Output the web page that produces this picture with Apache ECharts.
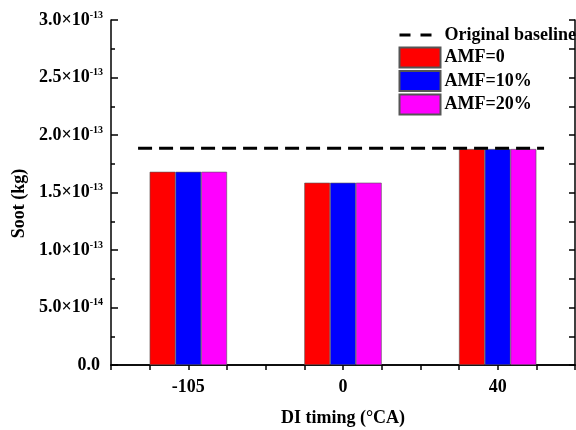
<!DOCTYPE html>
<html>
<head>
<meta charset="utf-8">
<script src="https://cdn.jsdelivr.net/npm/echarts@6/dist/echarts.min.js"></script>
<style>
  html, body { margin: 0; padding: 0; background: #fff; }
  #chart { width: 576px; height: 430px; }
</style>
</head>
<body>
<div id="chart"></div>
<script>
  const timings = ['-105', '0', '40'];
  const seriesNames = ['AMF=0', 'AMF=10%', 'AMF=20%'];
  const seriesColors = ['#ff0000', '#0000ff', '#ff00ff'];
  const amf0 = [1.68e-13, 1.585e-13, 1.878e-13];
  const amf10 = [1.68e-13, 1.585e-13, 1.878e-13];
  const amf20 = [1.68e-13, 1.585e-13, 1.878e-13];
  // baseline drawn along the top (quarter-category) axis
  const baselineX = [0.7, 11.2];
  const baselineSoot = 1.884e-13;

  const font = 'Liberation Serif';
  const chart = echarts.init(document.getElementById('chart'), null, { renderer: 'canvas' });

  function sciLabel(v) {
    if (v === 0) return '{z|0.0}';
    const e = Math.floor(Math.log10(v) + 1e-9);
    const m = (v / Math.pow(10, e)).toFixed(1);
    return '{m|' + m + '×10}{e|' + e + '}';
  }

  const axisLine = { show: true, lineStyle: { color: '#000', width: 1.5 } };
  const labelText = { fontFamily: font, fontWeight: 'bold', color: '#000' };

  chart.setOption({
    animation: false,
    legend: {
      orient: 'vertical',
      left: 398,
      top: 25,
      padding: 0,
      itemWidth: 41,
      itemHeight: 20,
      itemGap: 1.5,
      textStyle: { ...labelText, fontSize: 18, lineHeight: 20, padding: [0, 0, 0, -1] },
      data: [
        {
          name: 'Original baseline',
          itemStyle: { opacity: 0 },
          lineStyle: { color: '#000', width: 3, type: [11, 10] }
        }
      ].concat(seriesNames.map((n) => ({ name: n, icon: 'rect' })))
    },
    grid: { left: 111, top: 20, right: 1, bottom: 65, outerBoundsMode: 'none' },
    xAxis: [
      {
        type: 'category',
        data: timings,
        position: 'bottom',
        axisLine: axisLine,
        axisTick: { show: false },
        axisLabel: { ...labelText, margin: 13, fontSize: 18 },
        name: 'DI timing (°CA)',
        nameLocation: 'middle',
        nameGap: 44,
        nameTextStyle: { ...labelText, fontSize: 18 }
      },
      {
        type: 'value',
        position: 'top',
        min: 0,
        max: 12,
        interval: 1,
        axisLine: axisLine,
        axisTick: { inside: true, length: 5, lineStyle: { color: '#000', width: 1.5 } },
        axisLabel: { show: false },
        splitLine: { show: false }
      }
    ],
    yAxis: [
      {
        type: 'value',
        min: 0,
        max: 3e-13,
        interval: 0.5e-13,
        position: 'left',
        axisLine: axisLine,
        axisTick: { inside: true, length: 7, lineStyle: { color: '#000', width: 1.5 } },
        minorTick: { show: true, splitNumber: 2, length: 4, lineStyle: { color: '#000', width: 1.5 } },
        splitLine: { show: false },
        axisLabel: {
          margin: 8,
          formatter: sciLabel,
          rich: {
            m: { ...labelText, fontSize: 18 },
            z: { ...labelText, fontSize: 18, padding: [0, 3, 0, 0] },
            e: { ...labelText, fontSize: 10, verticalAlign: 'top', padding: [0, 0, 10, 0] }
          }
        },
        name: 'Soot (kg)',
        nameLocation: 'middle',
        nameGap: 80,
        nameTextStyle: { ...labelText, fontSize: 18, padding: [0, 22, 0, 0] }
      },
      {
        type: 'value',
        min: 0,
        max: 3e-13,
        interval: 0.5e-13,
        position: 'right',
        axisLine: axisLine,
        axisTick: { inside: true, length: 6, lineStyle: { color: '#000', width: 1.5 } },
        minorTick: { show: true, splitNumber: 2, length: 6, lineStyle: { color: '#000', width: 1.5 } },
        axisLabel: { show: false },
        splitLine: { show: false }
      }
    ],
    series: [
      {
        name: 'Original baseline',
        type: 'line',
        xAxisIndex: 1,
        yAxisIndex: 0,
        symbol: 'none',
        z: 5,
        lineStyle: { color: '#000', width: 3, type: [14, 7] },
        itemStyle: { color: '#000' },
        data: baselineX.map((x) => [x, baselineSoot])
      }
    ].concat([amf0, amf10, amf20].map((vals, i) => {
      return {
        name: seriesNames[i],
        type: 'bar',
        xAxisIndex: 0,
        yAxisIndex: 0,
        barGap: '0%',
        barCategoryGap: '50%',
        itemStyle: { color: seriesColors[i], borderColor: '#555', borderWidth: 0.6 },
        data: vals
      };
    }))
  });
</script>
</body>
</html>
